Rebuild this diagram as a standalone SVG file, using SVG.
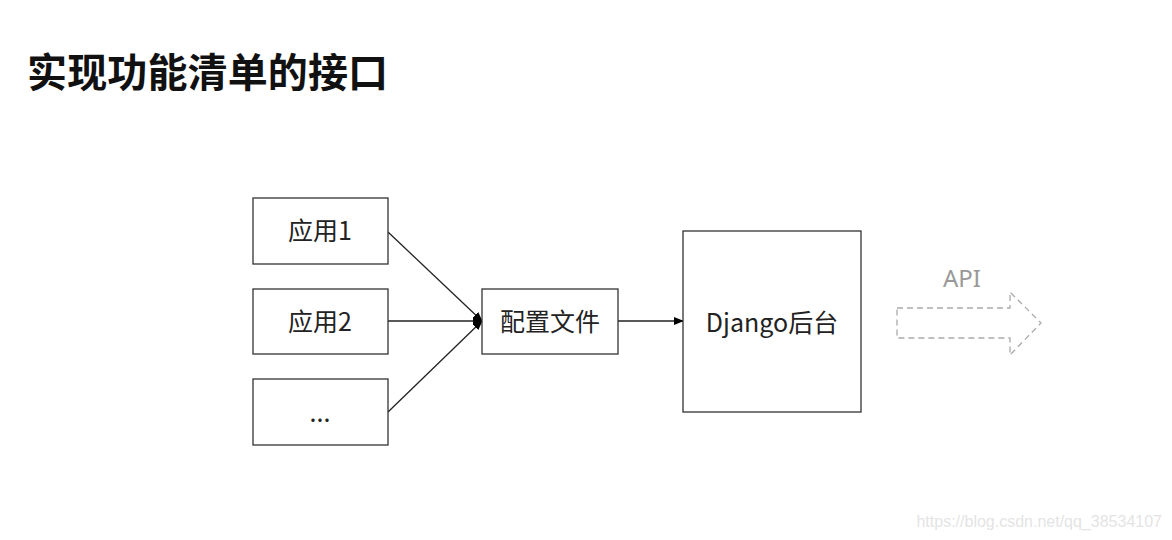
<svg xmlns="http://www.w3.org/2000/svg" width="1172" height="540" viewBox="0 0 1172 540">
<defs>
<marker id="ah" markerWidth="10" markerHeight="8" refX="9" refY="4" orient="auto" markerUnits="userSpaceOnUse">
<path d="M0,0 L10,4 L0,8 z" fill="#000"/>
</marker>
<style>
.box{fill:#fff;stroke:#333;stroke-width:1.3}
.lbl{font-family:"Noto Sans CJK SC","Noto Sans",sans-serif;font-size:25px;fill:#222;text-anchor:middle}
.conn{stroke:#222;stroke-width:1.3;fill:none}
</style>
</defs>
<rect width="1172" height="540" fill="#fff"/>
<text x="27" y="87" font-family="'Noto Sans CJK SC',sans-serif" font-size="40" font-weight="bold" fill="#111" textLength="361">实现功能清单的接口</text>
<g id="connectors">
<line class="conn" x1="388" y1="232" x2="482" y2="321" marker-end="url(#ah)"/>
<line class="conn" x1="388" y1="321" x2="482" y2="321" marker-end="url(#ah)"/>
<line class="conn" x1="388" y1="412" x2="482" y2="321" marker-end="url(#ah)"/>
<line class="conn" x1="618" y1="321" x2="683" y2="321" marker-end="url(#ah)"/>
</g>
<g id="app1">
<rect class="box" x="253" y="198" width="135" height="66"/>
<text class="lbl" x="320" y="240">应用1</text>
</g>
<g id="app2">
<rect class="box" x="253" y="289" width="135" height="65"/>
<text class="lbl" x="320" y="331">应用2</text>
</g>
<g id="app3">
<rect class="box" x="253" y="379" width="135" height="66"/>
<text class="lbl" x="320" y="422">...</text>
</g>
<g id="config">
<rect class="box" x="482" y="289" width="136" height="65"/>
<text class="lbl" x="550" y="331">配置文件</text>
</g>
<g id="django">
<rect class="box" x="683" y="231" width="178" height="181"/>
<text class="lbl" x="772" y="332">Django后台</text>
</g>
<g id="api">
<text x="962" y="287" font-family="'Noto Sans','Noto Sans CJK SC',sans-serif" font-size="24" fill="#999" text-anchor="middle">API</text>
<path d="M897,308 L1010,308 L1010,292 L1041,323 L1010,355 L1010,338 L897,338 Z" fill="none" stroke="#aaa" stroke-width="1.3" stroke-dasharray="6,4"/>
</g>
<text x="1162" y="527" font-family="'Liberation Sans',sans-serif" font-size="16" fill="#e4e4e4" text-anchor="end">https://blog.csdn.net/qq_38534107</text>
</svg>
